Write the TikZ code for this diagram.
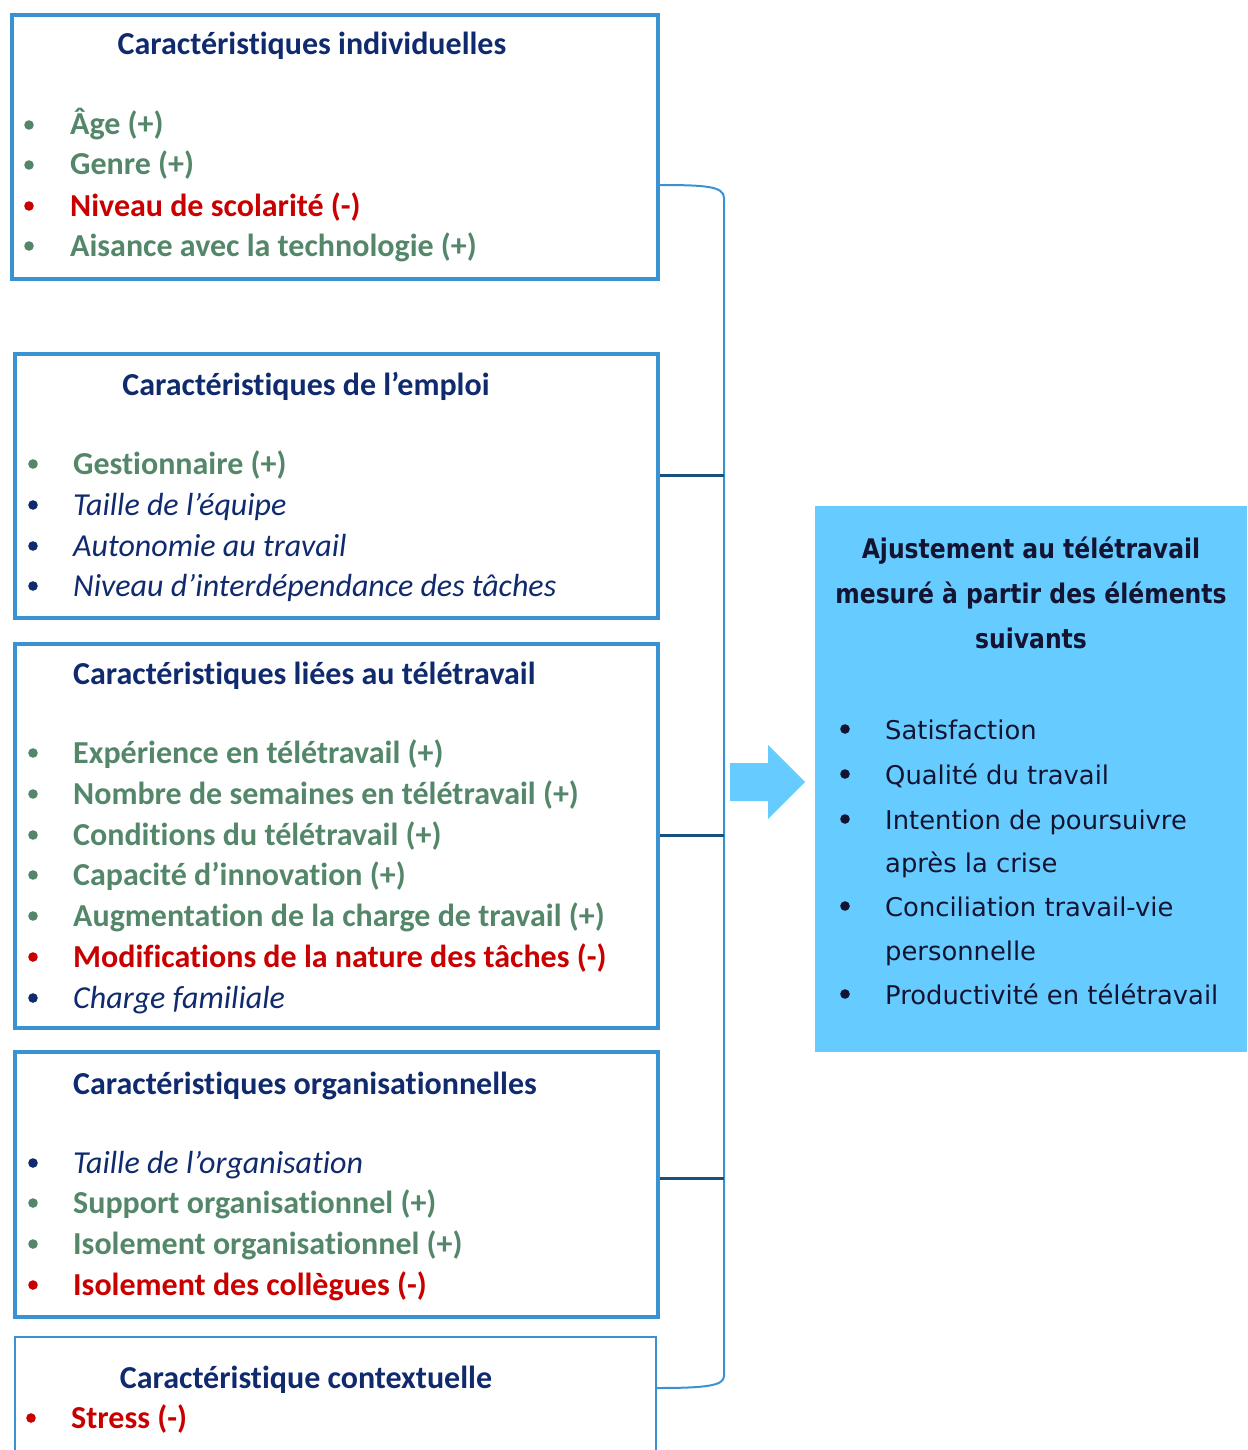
\documentclass[tikz,border=0pt]{standalone}
\usepackage{fontspec}
\setmainfont{Carlito}[Ligatures=NoCommon]
\newfontfamily\verd{DejaVu Sans}
\newfontfamily\verdb{DejaVu Sans}[FakeStretch=0.87]
\definecolor{boxblue}{RGB}{58,146,210}
\definecolor{navy}{RGB}{16,42,110}
\definecolor{grn}{RGB}{84,135,105}
\definecolor{rd}{RGB}{200,0,0}
\definecolor{sky}{RGB}{102,204,255}
\definecolor{ink}{RGB}{20,20,50}
\definecolor{linkdark}{RGB}{22,82,125}
\tikzset{
  box/.style={draw=boxblue, line width=4pt, anchor=north west, inner sep=0pt},
  ttl/.style={anchor=base, inner sep=0pt, text=navy, font=\fontsize{32}{38}\selectfont\bfseries},
  ttlw/.style={anchor=base west, inner sep=0pt, text=navy, font=\fontsize{32}{38}\selectfont\bfseries},
  itm/.style={anchor=base west, inner sep=0pt, font=\fontsize{32}{38}\selectfont\bfseries},
  iti/.style={anchor=base west, inner sep=0pt, font=\fontsize{32}{38}\selectfont\itshape},
  rtt/.style={anchor=base, inner sep=0pt, text=ink, font=\verdb\fontsize{27}{30}\selectfont\bfseries},
  rit/.style={anchor=base west, inner sep=0pt, text=ink, font=\verd\fontsize{25.8}{30}\selectfont},
  bracket/.style={draw=boxblue, line width=2pt},
  link/.style={draw=linkdark, line width=3pt},
}
% #1 colour, #2 bullet x, #3 text x, #4 row centre y, #5 style, #6 name, #7 text
\newcommand\bitem[7]{%
  \fill[#1] (#2,#4) circle (4.8pt);
  \node[#5, text=#1] (#6) at (#3,#4+10) {#7};}
\begin{document}
\begin{tikzpicture}[x=1pt,y=-1pt]
\useasboundingbox (0,0) rectangle (1247,1450);

% ---- box 1
\node[box, minimum width=646pt, minimum height=264pt] (b1) at (10,13) {};
\node[ttl] (h1) at (312,55) {Caractéristiques individuelles};
\bitem{grn}{29}{70}{125}{itm}{a1}{Âge (+)}
\bitem{grn}{29}{70}{165}{itm}{a2}{Genre (+)}
\bitem{rd}{29}{70}{206}{itm}{a3}{Niveau de scolarité (-)}
\bitem{grn}{29}{70}{246}{itm}{a4}{Aisance avec la technologie (+)}

% ---- box 2
\node[box, minimum width=643pt, minimum height=264pt] (b2) at (13,352) {};
\node[ttl] (h2) at (306,395) {Caractéristiques de l’emploi};
\bitem{grn}{33}{73}{464}{itm}{e1}{Gestionnaire (+)}
\bitem{navy}{33}{73}{505}{iti}{e2}{Taille de l’équipe}
\bitem{navy}{33}{73}{546}{iti}{e3}{Autonomie au travail}
\bitem{navy}{33}{73}{586}{iti}{e4}{Niveau d’interdépendance des tâches}

% ---- box 3
\node[box, minimum width=643pt, minimum height=384pt] (b3) at (13,642) {};
\node[ttlw] (h3) at (73,684) {Caractéristiques liées au télétravail};
\bitem{grn}{33}{73}{753}{itm}{t1}{Expérience en télétravail (+)}
\bitem{grn}{33}{73}{794}{itm}{t2}{Nombre de semaines en télétravail (+)}
\bitem{grn}{33}{73}{835}{itm}{t3}{Conditions du télétravail (+)}
\bitem{grn}{33}{73}{875}{itm}{t4}{Capacité d’innovation (+)}
\bitem{grn}{33}{73}{916}{itm}{t5}{Augmentation de la charge de travail (+)}
\bitem{rd}{33}{73}{957}{itm}{t6}{Modifications de la nature des tâches (-)}
\bitem{navy}{33}{73}{998}{iti}{t7}{Charge familiale}

% ---- box 4
\node[box, minimum width=643pt, minimum height=265pt] (b4) at (13,1050) {};
\node[ttlw] (h4) at (73,1094) {Caractéristiques organisationnelles};
\bitem{navy}{33}{73}{1163}{iti}{o1}{Taille de l’organisation}
\bitem{grn}{33}{73}{1203}{itm}{o2}{Support organisationnel (+)}
\bitem{grn}{33}{73}{1244}{itm}{o3}{Isolement organisationnel (+)}
\bitem{rd}{33}{73}{1285}{itm}{o4}{Isolement des collègues (-)}

% ---- box 5 (cut by page edge)
\node[box, line width=2pt, minimum width=641pt, minimum height=140pt] (b5) at (14,1336) {};
\node[ttl] (h5) at (306,1388) {Caractéristique contextuelle};
\bitem{rd}{31}{71}{1418}{itm}{c1}{Stress (-)}

% ---- bracket
\coordinate (bt) at (656,185);
\coordinate (bb) at (656,1388);
\coordinate (j2) at (724,475);
\coordinate (j3) at (724,835);
\coordinate (j4) at (724,1178);
\draw[bracket] (bt) .. controls (705,185) and (724,186) .. (724,198)
   -- (724,1376) .. controls (724,1386) and (705,1388) .. (bb);
\draw[link] (b2.east |- j2) -- (j2);
\draw[link] (b3.east |- j3) -- (j3);
\draw[link] (b4.east |- j4) -- (j4);

% ---- arrow
\fill[sky] (730,763) -- (768,763) -- (768,745) -- (805,782) -- (768,819) -- (768,801) -- (730,801) -- cycle;

% ---- result box
\node[fill=sky, anchor=north west, minimum width=432pt, minimum height=546pt, inner sep=0pt] (r) at (815,506) {};
\node[rtt] (r1) at (1031,558) {Ajustement au télétravail};
\node[rtt] (r2) at (1031,603) {mesuré à partir des éléments};
\node[rtt] (r3) at (1031,648) {suivants};
\bitem{ink}{845}{885}{729}{rit}{s1}{Satisfaction}
\bitem{ink}{845}{885}{774}{rit}{s2}{Qualité du travail}
\bitem{ink}{845}{885}{819}{rit}{s3}{Intention de poursuivre}
\node[rit] (s3b) at (885,872) {après la crise};
\bitem{ink}{845}{885}{906}{rit}{s4}{Conciliation travail-vie}
\node[rit] (s4b) at (885,960) {personnelle};
\bitem{ink}{845}{885}{994}{rit}{s5}{Productivité en télétravail}
\end{tikzpicture}
\end{document}
